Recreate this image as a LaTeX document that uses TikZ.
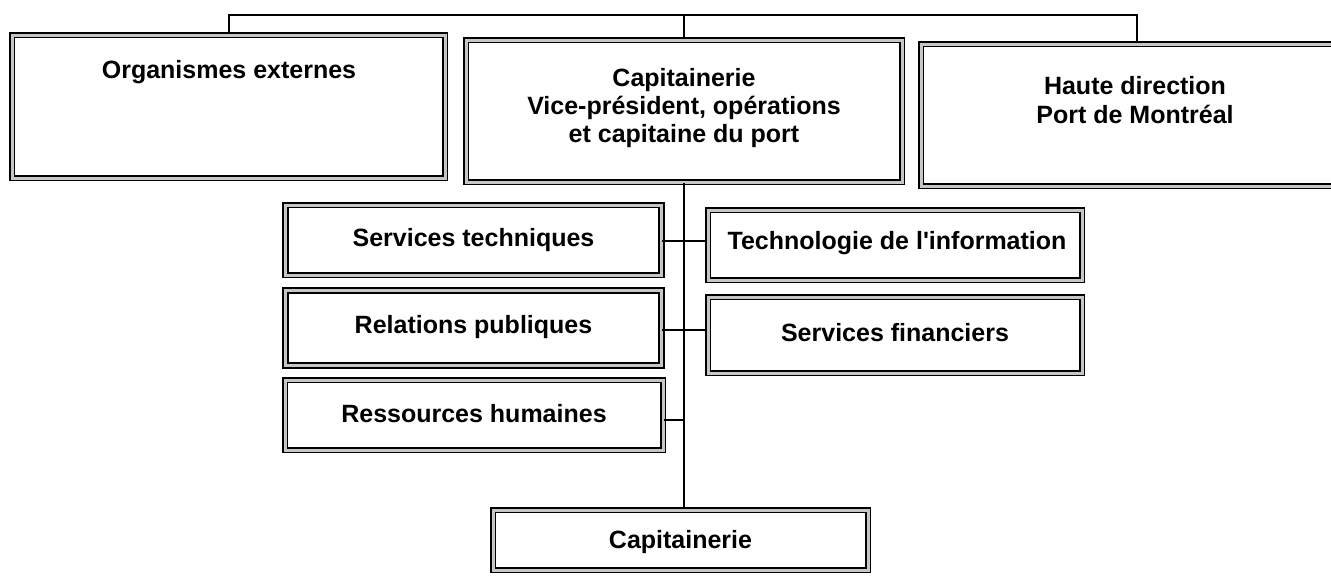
\documentclass[tikz,border=0pt]{standalone}
\usepackage{fontspec}
\setmainfont{Liberation Sans}
\begin{document}
\begin{tikzpicture}[x=0.5pt,y=-0.5pt,
  box/.style={draw=black, line width=0.95pt, double=gray!45, double distance=1.5pt, fill=white, inner sep=0pt},
  txt/.style={font=\bfseries\fontsize{12.5}{14.2}\selectfont, align=center, inner sep=0pt},
  conn/.style={draw=black, line width=0.9pt}]
\useasboundingbox (0,0) rectangle (1331,580);
\clip (0,0) rectangle (1331,580);
% top-level boxes
\node[box, minimum width=216.5pt, minimum height=71.5pt] (org) at (228.5,106.5) {};
\node[txt] (orgt) at (229,72) {Organismes externes};
\node[box, minimum width=218pt, minimum height=71pt] (cap) at (684,111) {};
\node[txt] (capt) at (684,108) {Capitainerie\\Vice-président, opérations\\et capitaine du port};
\node[box, minimum width=214pt, minimum height=71pt] (hd) at (1135,115) {};
\node[txt] (hdt) at (1135,100) {Haute direction\\Port de Montréal};
% top connector
\coordinate (tl) at (229,15);
\coordinate (tr) at (1137,15);
\draw[conn] (org.north -| tl) -- (tl) -- (tr) -- (tr |- hd.north);
\draw[conn] (cap.north) -- (cap.north |- tl);
% second level
\node[box, minimum width=188pt, minimum height=35pt] (st) at (473.5,240) {};
\node[txt] (stt) at (473.5,240) {Services techniques};
\node[box, minimum width=188pt, minimum height=37.5pt] (rp) at (473.5,328) {};
\node[txt] (rpt) at (473.5,327) {Relations publiques};
\node[box, minimum width=189pt, minimum height=35pt] (rh) at (474,415) {};
\node[txt] (rht) at (474,414) {Ressources humaines};
\node[box, minimum width=187pt, minimum height=35pt] (ti) at (895,245) {};
\node[txt] (tit) at (897,243) {Technologie de l\textquotesingle information};
\node[box, minimum width=187pt, minimum height=38pt] (sf) at (895,335) {};
\node[txt] (sft) at (895,333) {Services financiers};
\node[box, minimum width=187.5pt, minimum height=30pt] (cb) at (680.5,540) {};
\node[txt] (cbt) at (680.5,542) {Capitainerie};
% trunk and branches
\draw[conn] (cap.south) -- (cap.south |- cb.north);
\draw[conn] (st.east |- 0,241) -- (ti.west |- 0,241);
\draw[conn] (rp.east |- 0,330) -- (sf.west |- 0,330);
\draw[conn] (rh.east |- 0,420) -- (cap.south |- 0,420);
\end{tikzpicture}
\end{document}
